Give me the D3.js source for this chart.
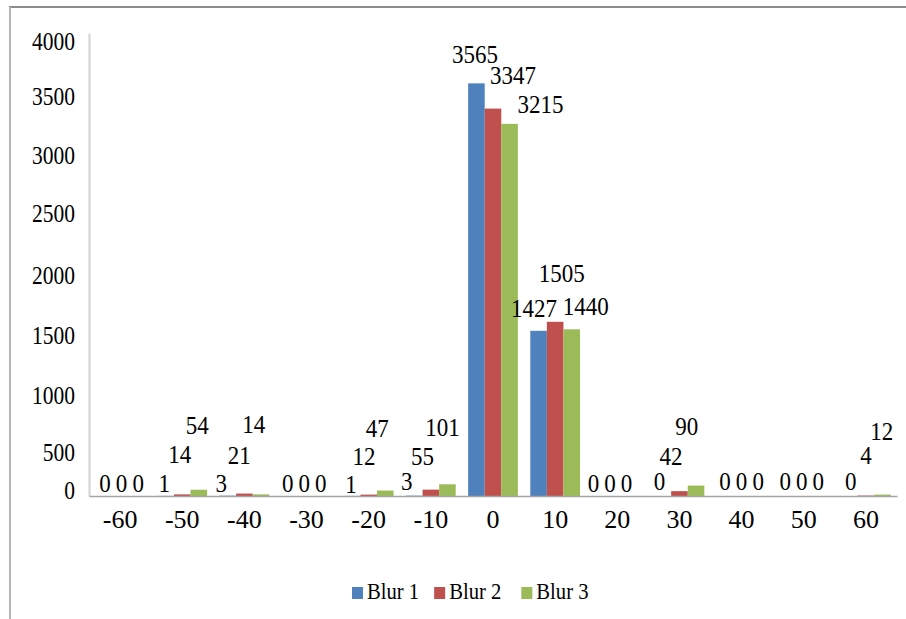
<!DOCTYPE html>
<html>
<head>
<meta charset="utf-8">
<script src="https://cdn.jsdelivr.net/npm/d3@7/dist/d3.min.js"></script>
<style>
  html, body { margin: 0; padding: 0; background: #fff; }
  svg { display: block; }
  svg text { font-family: "Liberation Serif", "Times New Roman", serif !important; }
</style>
</head>
<body>
<svg id="chart" width="906" height="619"></svg>
<script>
// Angle bins and counts per blur level
const categories = ["-60", "-50", "-40", "-30", "-20", "-10", "0", "10", "20", "30", "40", "50", "60"];
const seriesNames = ["Blur 1", "Blur 2", "Blur 3"];
const blur1 = [0, 1, 3, 0, 1, 3, 3565, 1427, 0, 0, 0, 0, 0];
const blur2 = [0, 14, 21, 0, 12, 55, 3347, 1505, 0, 42, 0, 0, 4];
const blur3 = [0, 54, 14, 0, 47, 101, 3215, 1440, 0, 90, 0, 0, 12];
const yTicks = [0, 500, 1000, 1500, 2000, 2500, 3000, 3500, 4000];

const seriesValues = [blur1, blur2, blur3];
const colors = ["#4F81BD", "#C0504D", "#9BBB59"];
const serif = "'Liberation Serif', 'Times New Roman', serif";

// Hand placement of the value labels: lift above the bar top and sideways shift (px)
const labelLift = [
  [4, 4, 4, 4, 3, 6, 20, 14, 4, 6, 6, 6, 6],
  [4, 31, 30, 4, 30, 25, 25, 40, 4, 26, 6, 6, 32],
  [4, 56, 61, 4, 54, 48, 11, 14, 4, 51, 6, 6, 55]
];
const labelShift = [
  [1.5, -1.4, -6.5, -2.3, -1, -7.5, -1.5, -4.5, -7.3, -3.5, 0, -2, 1.5],
  [1.5, -2.5, -5.2, -2.3, -4.7, -8.3, 20, 6.5, -7.3, -8.4, 0, -2, 0],
  [1.5, -1.6, -7.3, -2.3, -8, -5, 31, 14, -7.3, -9.3, 0, -2, -0.7]
];
// Vertical nudge of the value-axis labels relative to their gridline position
const tickLabelNudge = {4000: 7.5, 3500: 5.5, 3000: 6, 2500: 6, 2000: 10, 1500: 12.5, 1000: 14.5, 500: 13.5, 0: -6};

const svg = d3.select("#chart");
svg.append("rect").attr("width", 906).attr("height", 619).attr("fill", "#fff");

// outer frame (top and left edges)
svg.append("line").attr("x1", 9).attr("x2", 906).attr("y1", 7).attr("y2", 7)
  .attr("stroke", "#8c8c8c").attr("stroke-width", 2);
svg.append("line").attr("x1", 10).attr("x2", 10).attr("y1", 7).attr("y2", 619)
  .attr("stroke", "#b4b4b4").attr("stroke-width", 2);

const plot = {left: 89, right: 897, top: 33, bottom: 496};

const x = d3.scaleBand().domain(categories).range([plot.left, plot.right])
  .paddingInner(0.2).paddingOuter(0.1);
const xInner = d3.scaleBand().domain(d3.range(seriesNames.length)).range([0, x.bandwidth()]);
const y = d3.scaleLinear().domain([0, 4000]).range([plot.bottom, plot.top]);

// bars
seriesValues.forEach((vals, s) => {
  svg.append("g").selectAll("rect").data(vals).join("rect")
    .attr("x", (d, i) => x(categories[i]) + xInner(s))
    .attr("y", d => y(d))
    .attr("width", xInner.bandwidth())
    .attr("height", d => y(0) - y(d))
    .attr("fill", colors[s]);
});

// y axis
const yAxis = svg.append("g").attr("transform", `translate(${plot.left},0)`)
  .attr("font-family", serif)
  .call(d3.axisLeft(y).tickValues(yTicks).tickSize(0).tickSizeOuter(0).tickFormat(d3.format("d")));
yAxis.attr("font-family", serif);
yAxis.select(".domain").attr("stroke", "#d6d6d6").attr("stroke-width", 2.2);
yAxis.selectAll(".tick text")
  .attr("x", null).attr("dy", null)
  .attr("text-anchor", "end")
  .attr("dominant-baseline", "central")
  .attr("fill", "#000")
  .attr("font-family", serif)
  .style("font-size", "25px")
  .attr("transform", d => `translate(-14,${tickLabelNudge[d] || 0}) scale(0.86,1)`);

// x axis
const xAxis = svg.append("g").attr("transform", `translate(0,${plot.bottom})`)
  .call(d3.axisBottom(x).tickSize(0).tickSizeOuter(0));
xAxis.attr("font-family", serif);
xAxis.select(".domain").attr("stroke", "#a6a6a6").attr("stroke-width", 1.6);
xAxis.selectAll(".tick text")
  .attr("y", null).attr("dy", null)
  .attr("fill", "#000")
  .attr("font-family", serif)
  .style("font-size", "26px")
  .attr("transform", "translate(0,32)");

// value labels
seriesValues.forEach((vals, s) => {
  svg.append("g").selectAll("g").data(vals).join("g")
    .attr("transform", (d, i) => {
      const cx = x(categories[i]) + xInner(s) + xInner.bandwidth() / 2 + labelShift[s][i];
      const by = y(d) - labelLift[s][i];
      return `translate(${cx},${by})`;
    })
    .append("text")
    .attr("text-anchor", "middle")
    .attr("transform", "scale(0.92,1)")
    .attr("font-family", serif)
    .style("font-size", "25px")
    .attr("fill", "#000")
    .text(d => d);
});

// legend
const legend = svg.append("g");
let lx = 352;
const gaps = [15, 20];
seriesNames.forEach((name, s) => {
  const item = legend.append("g").attr("transform", `translate(${lx},0)`);
  item.append("rect").attr("x", 0).attr("y", 587).attr("width", 11).attr("height", 12)
    .attr("fill", colors[s]);
  const t = item.append("g").attr("transform", "translate(15,599)")
    .append("text").attr("transform", "scale(0.86,1)")
    .attr("font-family", serif)
    .style("font-size", "24px").attr("fill", "#000").text(name);
  const w = t.node().getComputedTextLength() * 0.86;
  lx += 15 + w + (gaps[s] || 0);
});
</script>
</body>
</html>
